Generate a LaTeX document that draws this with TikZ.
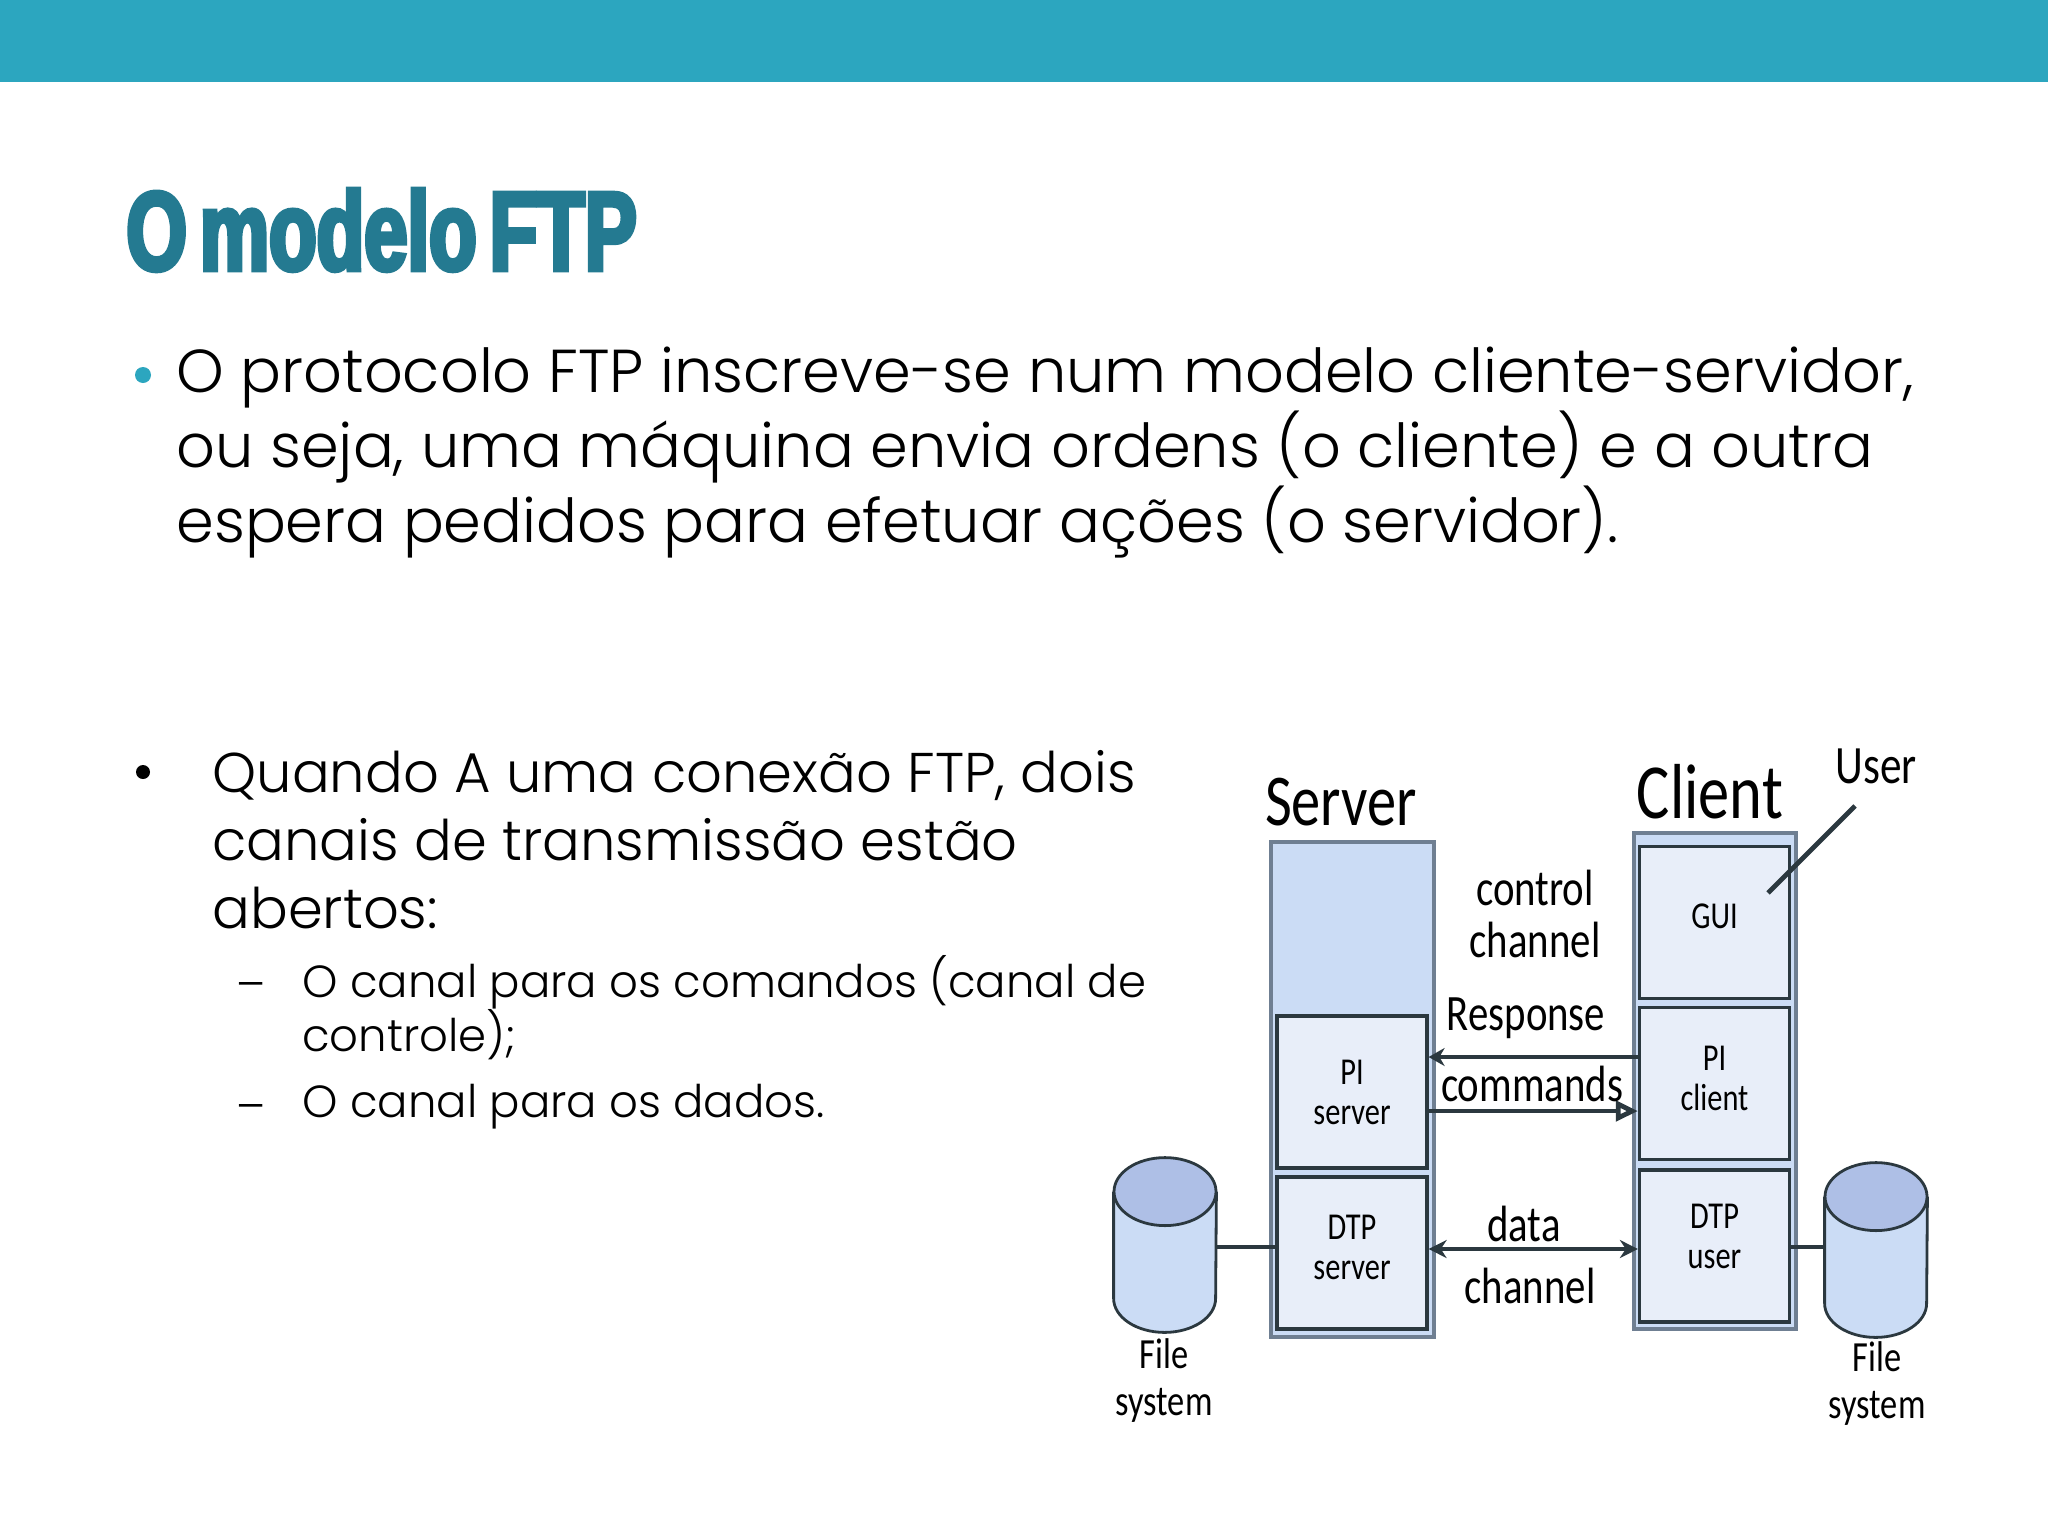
\documentclass[tikz,border=0pt]{standalone}
\usepackage{fontspec}
\setmainfont{Poppins Light}
\newfontfamily\titlefont[FakeBold=4,FakeStretch=0.695,WordSpace=0.6]{Liberation Sans Bold}
\newfontfamily\sketchfont[FakeStretch=0.8]{Carlito}
\usetikzlibrary{arrows.meta,positioning,calc}
\definecolor{topbar}{HTML}{2CA6BF}
\definecolor{titleink}{HTML}{247A91}
\definecolor{frame}{HTML}{6F7F92}
\definecolor{edge}{HTML}{2B383F}
\definecolor{panelblue}{HTML}{CBDCF5}
\definecolor{boxblue}{HTML}{E8EEF9}
\definecolor{disktop}{HTML}{AEBFE6}
\tikzset{
  every node/.style={inner sep=0},
  arr/.style={line width=2.4pt,draw=edge},
  outerbox/.style={draw=frame,line width=2pt,fill=panelblue},
  box/.style={draw=edge,line width=1.6pt,fill=boxblue,minimum width=75pt,minimum height=76pt,align=center,font=\sketchfont\fontsize{19}{20}\selectfont},
  disk/.style={minimum width=51pt,minimum height=87pt},
  diskline/.style={draw=edge,line width=1.4pt},
  sketch/.style={font=\sketchfont\fontsize{25.5}{26}\selectfont,align=center},
  filelab/.style={font=\sketchfont\fontsize{21.5}{23.5}\selectfont,align=center},
  bigsketch/.style={font=\sketchfont\fontsize{36.5}{38}\selectfont},
  body/.style={font=\fontsize{30.3}{37.5}\selectfont,align=left,anchor=north west},
  bodytwo/.style={font=\fontsize{28}{34}\selectfont,align=left,anchor=north west},
  subtext/.style={font=\fontsize{22.5}{27}\selectfont,align=left,anchor=north west}
}
\begin{document}
\begin{tikzpicture}[x=.5pt,y=-.5pt]
\path[use as bounding box,fill=white] (0,0) rectangle (2048,1536);
\fill[topbar] (0,0) rectangle (2048,82);
\node[anchor=base west,text=titleink,font=\titlefont\fontsize{56}{60}\selectfont] (title) at (126,270) {O modelo FTP};
% first paragraph
\node[circle,fill=topbar,minimum size=8pt] (dotone) at (143,375) {};
\node[body] (paraone) at (176,347)
 {O protocolo FTP inscreve-se num modelo cliente-servidor,\\ou seja, uma máquina envia ordens (o cliente) e a outra\\espera pedidos para efetuar ações (o servidor).};
% second paragraph
\node[circle,fill=black,minimum size=7pt] (dottwo) at (143,772) {};
\node[bodytwo] (paratwo) at (212,750)
 {Quando A uma conexão FTP, dois\\canais de transmissão estão\\abertos:};
\node[subtext] (dashone) at (236,982) {–};
\node[subtext] (subone) at (302,955) {O canal para os comandos (canal de\\controle);};
\node[subtext] (dashtwo) at (236,1104) {–};
\node[subtext] (subtwo) at (302,1084) {O canal para os dados.};
% server side
\node[outerbox,minimum width=81.5pt,minimum height=247.5pt] (server) at (1352.5,1089.5) {};
\node[box] (piserver) at (1352,1092) {PI\\server};
\node[box,text depth=6pt] (dtpserver) at (1352,1253) {DTP\\server};
\node[bigsketch] (servertitle) at (1341,802) {Server};
% client side
\node[outerbox,minimum width=81pt,minimum height=248pt] (client) at (1715,1081) {};
\node[box,text depth=6pt] (gui) at (1714.5,922.5) {GUI};
\node[box,text depth=5pt] (piclient) at (1714.5,1083.5) {PI\\client};
\node[box,text depth=10pt] (dtpuser) at (1714.5,1246) {DTP\\user};
\node[bigsketch,font=\sketchfont\fontsize{39}{40}\selectfont] (clienttitle) at (1710,792) {Client};
\node[sketch,font=\sketchfont\fontsize{27}{28}\selectfont] (user) at (1876,766) {User};
\coordinate (userend) at (1768,893);
\coordinate (userstart) at (1855,806);
\draw[line width=2.4pt,draw=edge] (userstart) -- (userend);
% disks
\node[disk] (diskleft) at (1165,1245) {};
\node[disk] (diskright) at (1876,1250) {};
\draw[diskline,fill=panelblue] ($(diskleft.north west)+(0,-17pt)$) -- ($(diskleft.south west)+(0,17pt)$)
  arc[start angle=180,end angle=360,x radius=25.5pt,y radius=17pt] -- ($(diskleft.north east)+(0,-17pt)$);
\draw[diskline,fill=disktop] ($(diskleft.north)+(0,-17pt)$) ellipse[x radius=25.5pt,y radius=17pt];
\draw[diskline,fill=panelblue] ($(diskright.north west)+(0,-17pt)$) -- ($(diskright.south west)+(0,17pt)$)
  arc[start angle=180,end angle=360,x radius=25.5pt,y radius=17pt] -- ($(diskright.north east)+(0,-17pt)$);
\draw[diskline,fill=disktop] ($(diskright.north)+(0,-17pt)$) ellipse[x radius=25.5pt,y radius=17pt];
\node[filelab] (fileleft) at (1164,1381) {File\\system};
\node[filelab] (fileright) at (1877,1384) {File\\system};
% channels
\coordinate (resp) at (1500,1057);
\coordinate (cmd) at (1500,1111);
\coordinate (dat) at (1500,1249);
\coordinate (store) at (1500,1247);
\draw[arr] (diskleft.east |- store) -- (dtpserver.west |- store);
\draw[arr] (dtpuser.east |- store) -- (diskright.west |- store);
\draw[arr,-{Stealth[length=8pt,width=9pt]}] (piclient.west |- resp) -- (piserver.east |- resp);
\draw[arr,-{Triangle[open,length=11pt,width=10pt]}] (piserver.east |- cmd) -- (piclient.west |- cmd);
\draw[arr,{Stealth[length=9pt,width=9pt]}-{Stealth[length=9pt,width=9pt]}] (dtpserver.east |- dat) -- (dtpuser.west |- dat);
\node[sketch] (ctrl) at (1535,914) {control\\channel};
\node[sketch] (response) at (1526,1018) {Response};
\node[sketch] (commands) at (1532,1084) {commands};
\node[sketch] (datalab) at (1524,1224) {data};
\node[sketch] (chanlab) at (1530,1286) {channel};
\end{tikzpicture}
\end{document}
